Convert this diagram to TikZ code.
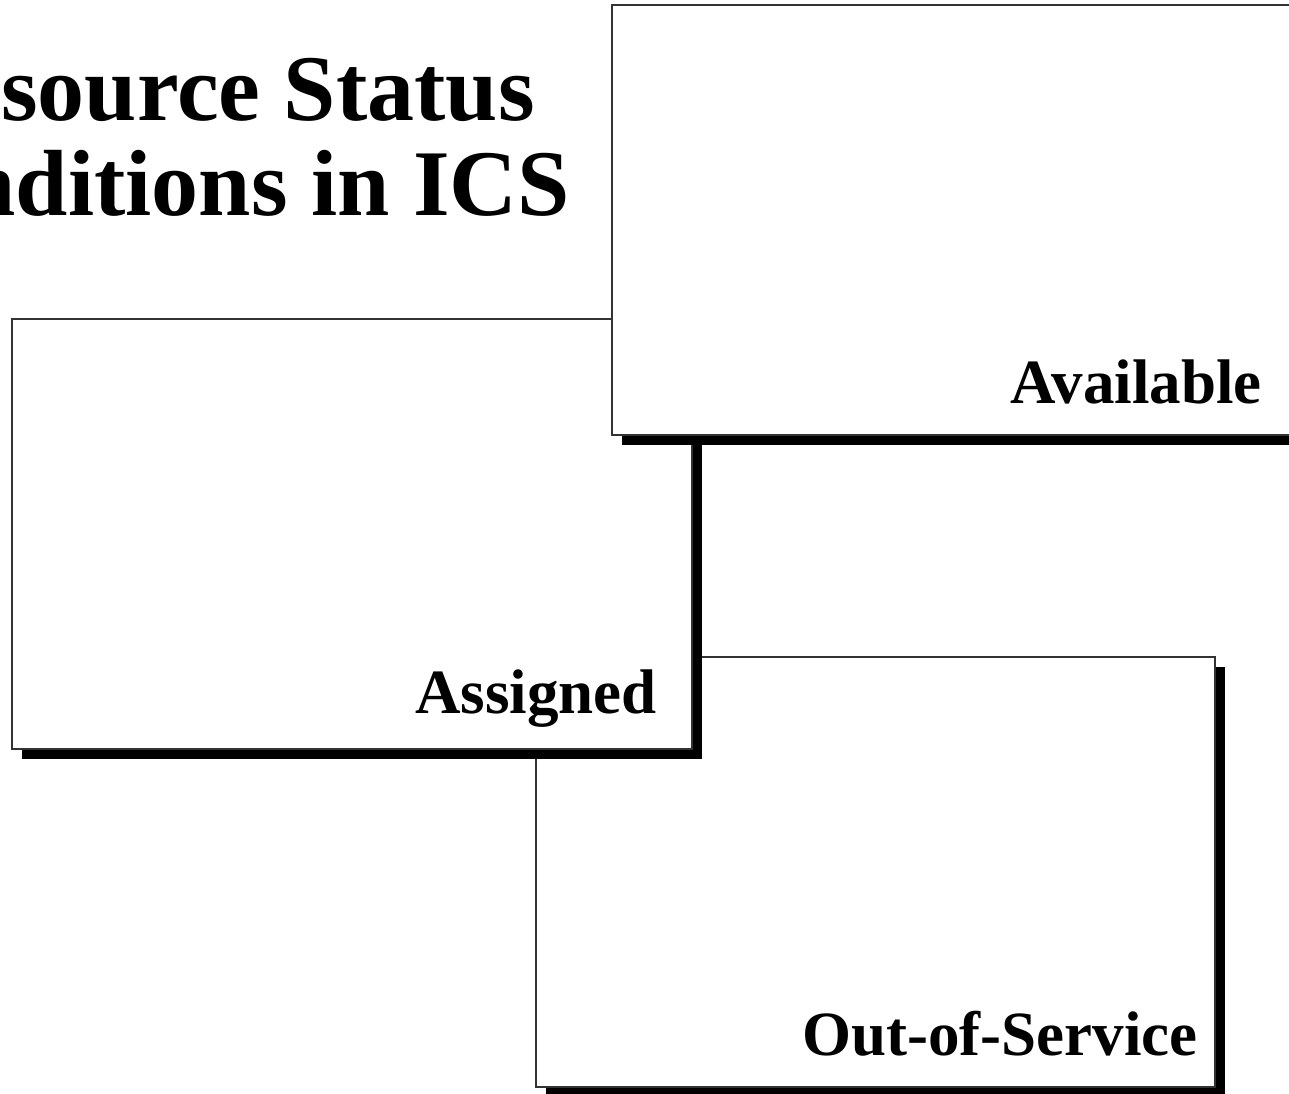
\documentclass[tikz,border=0pt]{standalone}
\usepackage{fontspec}
\setmainfont{Liberation Serif}
\usetikzlibrary{shadows}
\tikzset{
  statusbox/.style={draw=black!80, line width=1.2bp, fill=white, rectangle,
    inner sep=0pt, outer sep=0pt, anchor=north west,
    drop shadow={shadow xshift=10bp, shadow yshift=-10bp, fill=black, opacity=1}},
  boxlabel/.style={font=\bfseries\fontsize{63bp}{66bp}\selectfont, inner sep=0pt, anchor=base east},
  titletext/.style={font=\bfseries\fontsize{94bp}{96bp}\selectfont, inner sep=0pt, anchor=base east}
}
\begin{document}
\begin{tikzpicture}[x=1bp,y=-1bp]
\useasboundingbox[fill=white] (0,0) rectangle (1289,1094);
% title
\node[titletext] (title1) at (535,120) {source Status};
\node[titletext] (title2) at (570,215) {nditions in ICS};
% boxes, back to front
\node[statusbox, minimum width=679bp, minimum height=430bp] (oos) at (536,657) {};
\node[boxlabel] (oosl) at (1198,1055) {Out-of-Service};
\node[statusbox, minimum width=680bp, minimum height=430bp] (assigned) at (12,319) {};
\node[boxlabel] (assignedl) at (657,713) {Assigned};
\node[statusbox, minimum width=700bp, minimum height=430bp] (avail) at (612,5) {};
\node[boxlabel] (availl) at (1262,403) {Available};
\end{tikzpicture}
\end{document}
